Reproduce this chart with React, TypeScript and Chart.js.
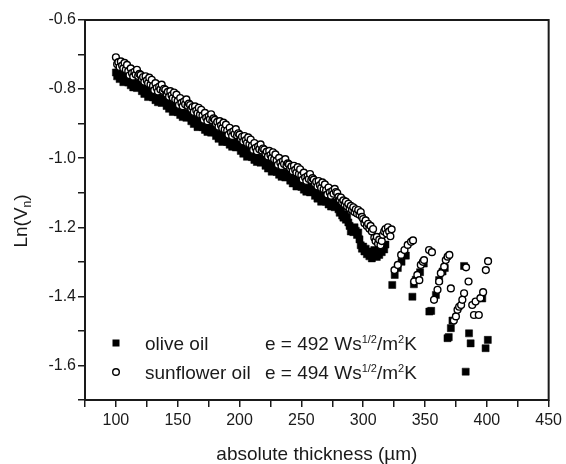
import React, { useEffect, useRef } from 'react';
import { Chart, registerables } from 'chart.js';

Chart.register(...registerables);

// ---- data ----
const xTickLabels = [100, 150, 200, 250, 300, 350, 400, 450];
const yTickLabels = [-1.6, -1.4, -1.2, -1.0, -0.8, -0.6];

const olivePoints: [number, number][] = [
  [100, -0.752], [101, -0.763], [102, -0.751], [103, -0.771], [104, -0.764], [105, -0.760], [106, -0.780], [107, -0.766], [108, -0.776], [109, -0.764],
  [110, -0.781], [111, -0.775], [112, -0.789], [113, -0.779], [114, -0.795], [115, -0.783], [116, -0.787], [117, -0.797], [118, -0.785], [119, -0.793],
  [120, -0.795], [121, -0.806], [122, -0.794], [123, -0.814], [124, -0.807], [125, -0.803], [126, -0.823], [127, -0.809], [128, -0.819], [129, -0.807],
  [130, -0.824], [131, -0.818], [132, -0.832], [133, -0.822], [134, -0.838], [135, -0.826], [136, -0.830], [137, -0.840], [138, -0.828], [139, -0.836],
  [140, -0.838], [141, -0.849], [142, -0.837], [143, -0.857], [144, -0.850], [145, -0.846], [146, -0.866], [147, -0.852], [148, -0.862], [149, -0.850],
  [150, -0.867], [151, -0.861], [152, -0.875], [153, -0.865], [154, -0.881], [155, -0.869], [156, -0.873], [157, -0.883], [158, -0.871], [159, -0.879],
  [160, -0.882], [161, -0.893], [162, -0.881], [163, -0.901], [164, -0.894], [165, -0.890], [166, -0.910], [167, -0.896], [168, -0.906], [169, -0.894],
  [170, -0.910], [171, -0.904], [172, -0.918], [173, -0.908], [174, -0.924], [175, -0.912], [176, -0.916], [177, -0.926], [178, -0.914], [179, -0.922],
  [180, -0.925], [181, -0.936], [182, -0.924], [183, -0.944], [184, -0.937], [185, -0.933], [186, -0.953], [187, -0.939], [188, -0.949], [189, -0.937],
  [190, -0.953], [191, -0.947], [192, -0.961], [193, -0.951], [194, -0.967], [195, -0.955], [196, -0.959], [197, -0.969], [198, -0.957], [199, -0.965],
  [200, -0.968], [201, -0.979], [202, -0.967], [203, -0.987], [204, -0.980], [205, -0.976], [206, -0.996], [207, -0.982], [208, -0.992], [209, -0.980],
  [210, -0.997], [211, -0.991], [212, -1.005], [213, -0.995], [214, -1.011], [215, -0.999], [216, -1.003], [217, -1.013], [218, -1.001], [219, -1.009],
  [220, -1.011], [221, -1.022], [222, -1.010], [223, -1.030], [224, -1.023], [225, -1.019], [226, -1.039], [227, -1.025], [228, -1.035], [229, -1.023],
  [230, -1.040], [231, -1.034], [232, -1.048], [233, -1.038], [234, -1.054], [235, -1.042], [236, -1.046], [237, -1.056], [238, -1.044], [239, -1.052],
  [240, -1.054], [241, -1.065], [242, -1.053], [243, -1.073], [244, -1.066], [245, -1.062], [246, -1.082], [247, -1.068], [248, -1.078], [249, -1.066],
  [250, -1.083], [251, -1.077], [252, -1.091], [253, -1.081], [254, -1.097], [255, -1.085], [256, -1.089], [257, -1.099], [258, -1.087], [259, -1.095],
  [260, -1.098], [261, -1.109], [262, -1.097], [263, -1.117], [264, -1.110], [265, -1.106], [266, -1.126], [267, -1.112], [268, -1.122], [269, -1.110],
  [270, -1.126], [271, -1.120], [272, -1.134], [273, -1.124], [274, -1.140], [275, -1.128], [276, -1.132], [277, -1.142], [278, -1.130], [279, -1.138],
  [280, -1.148], [281, -1.158], [282, -1.150], [283, -1.166], [284, -1.172], [285, -1.162], [286, -1.178], [287, -1.170], [288, -1.186], [289, -1.196],
  [290, -1.212], [291, -1.205], [292, -1.214], [293, -1.200], [294, -1.210], [295, -1.222], [296, -1.215], [297, -1.235], [298, -1.252], [299, -1.262],
  [300, -1.256], [301, -1.270], [302, -1.262], [303, -1.278], [304, -1.270], [305, -1.284], [306, -1.276], [307, -1.290], [308, -1.280], [309, -1.266],
  [310, -1.274], [311, -1.286], [312, -1.270], [313, -1.280], [314, -1.262], [315, -1.272], [316, -1.256], [317, -1.264], [318, -1.250],
  [323.5, -1.367], [325.5, -1.338], [328, -1.318], [331, -1.300], [334.5, -1.282],
  [339.8, -1.401], [341, -1.365], [342.5, -1.352], [346, -1.330], [349, -1.305],
  [353.5, -1.444], [355, -1.442], [358.8, -1.396], [361.4, -1.353], [364.2, -1.328], [366, -1.318],
  [368.2, -1.521], [369.2, -1.518], [370.9, -1.492], [372.2, -1.470], [381.6, -1.312],
  [382.9, -1.618], [385.6, -1.507], [386.9, -1.536], [396.3, -1.406], [399, -1.550], [400.8, -1.526],
];

const sunflowerPoints: [number, number][] = [
  [100, -0.708], [101, -0.728], [102, -0.722], [103, -0.736], [104, -0.720], [105, -0.732], [106, -0.740], [107, -0.724], [108, -0.744], [109, -0.730],
  [110, -0.748], [111, -0.760], [112, -0.740], [113, -0.754], [114, -0.764], [115, -0.750], [116, -0.758], [117, -0.744], [118, -0.762], [119, -0.756],
  [120, -0.759], [121, -0.771], [122, -0.765], [123, -0.779], [124, -0.763], [125, -0.775], [126, -0.783], [127, -0.767], [128, -0.787], [129, -0.773],
  [130, -0.791], [131, -0.803], [132, -0.783], [133, -0.797], [134, -0.807], [135, -0.793], [136, -0.801], [137, -0.787], [138, -0.805], [139, -0.799],
  [140, -0.802], [141, -0.814], [142, -0.808], [143, -0.822], [144, -0.806], [145, -0.818], [146, -0.826], [147, -0.810], [148, -0.830], [149, -0.816],
  [150, -0.834], [151, -0.846], [152, -0.826], [153, -0.840], [154, -0.850], [155, -0.836], [156, -0.844], [157, -0.830], [158, -0.848], [159, -0.842],
  [160, -0.846], [161, -0.858], [162, -0.852], [163, -0.866], [164, -0.850], [165, -0.862], [166, -0.870], [167, -0.854], [168, -0.874], [169, -0.860],
  [170, -0.877], [171, -0.889], [172, -0.869], [173, -0.883], [174, -0.893], [175, -0.879], [176, -0.887], [177, -0.873], [178, -0.891], [179, -0.885],
  [180, -0.889], [181, -0.901], [182, -0.895], [183, -0.909], [184, -0.893], [185, -0.905], [186, -0.913], [187, -0.897], [188, -0.917], [189, -0.903],
  [190, -0.920], [191, -0.932], [192, -0.912], [193, -0.926], [194, -0.936], [195, -0.922], [196, -0.930], [197, -0.916], [198, -0.934], [199, -0.928],
  [200, -0.932], [201, -0.944], [202, -0.938], [203, -0.952], [204, -0.936], [205, -0.948], [206, -0.956], [207, -0.940], [208, -0.960], [209, -0.946],
  [210, -0.964], [211, -0.976], [212, -0.956], [213, -0.970], [214, -0.980], [215, -0.966], [216, -0.974], [217, -0.960], [218, -0.978], [219, -0.972],
  [220, -0.975], [221, -0.987], [222, -0.981], [223, -0.995], [224, -0.979], [225, -0.991], [226, -0.999], [227, -0.983], [228, -1.003], [229, -0.989],
  [230, -1.007], [231, -1.019], [232, -0.999], [233, -1.013], [234, -1.023], [235, -1.009], [236, -1.017], [237, -1.003], [238, -1.021], [239, -1.015],
  [240, -1.018], [241, -1.030], [242, -1.024], [243, -1.038], [244, -1.022], [245, -1.034], [246, -1.042], [247, -1.026], [248, -1.046], [249, -1.032],
  [250, -1.050], [251, -1.062], [252, -1.042], [253, -1.056], [254, -1.066], [255, -1.052], [256, -1.060], [257, -1.046], [258, -1.064], [259, -1.058],
  [260, -1.062], [261, -1.074], [262, -1.068], [263, -1.082], [264, -1.066], [265, -1.078], [266, -1.086], [267, -1.070], [268, -1.090], [269, -1.076],
  [270, -1.093], [271, -1.105], [272, -1.085], [273, -1.099], [274, -1.109], [275, -1.095], [276, -1.103], [277, -1.089], [278, -1.098], [279, -1.101],
  [280, -1.112], [281, -1.120], [282, -1.114], [283, -1.128], [284, -1.122], [285, -1.134], [286, -1.126], [287, -1.140], [288, -1.132], [289, -1.146],
  [290, -1.138], [291, -1.150], [292, -1.142], [293, -1.156], [294, -1.148], [295, -1.160], [296, -1.150], [297, -1.164], [298, -1.156], [299, -1.170],
  [300, -1.176], [301, -1.188], [302, -1.180], [303, -1.196], [304, -1.190], [305, -1.204], [306, -1.196], [307, -1.212], [308, -1.205], [309, -1.230],
  [310, -1.240], [311, -1.228], [312, -1.248], [313, -1.236], [314, -1.252], [315, -1.240], [316, -1.222], [317, -1.212], [318, -1.205], [319, -1.218],
  [320, -1.200], [321, -1.212], [322, -1.226], [323, -1.206],
  [325.3, -1.324], [328, -1.309], [330.7, -1.280], [333.4, -1.266], [336, -1.251], [338.7, -1.242], [340.3, -1.238],
  [341.2, -1.357], [343.8, -1.338], [345.4, -1.353], [346.6, -1.309], [348.3, -1.300], [349.2, -1.295], [353.3, -1.266], [355.6, -1.272],
  [357.3, -1.410], [360.1, -1.381], [361.4, -1.357], [362.8, -1.333], [365.5, -1.314], [366.8, -1.295], [368.3, -1.285], [369.7, -1.280],
  [370.9, -1.377], [381.6, -1.391], [385.2, -1.357], [383.2, -1.316],
  [373.3, -1.470], [375, -1.458], [376.3, -1.439], [377.6, -1.430], [379.2, -1.425], [380.2, -1.410],
  [388.2, -1.425], [389.6, -1.454], [390.9, -1.415], [393.5, -1.454], [394.8, -1.405], [397, -1.388], [399.2, -1.324], [401, -1.298],
];

const seriesNames = ['olive oil', 'sunflower oil'];
const effusivity = ['492', '494'];
const xTitle = 'absolute thickness (µm)';

const FONT = "'Liberation Sans', Arial, Helvetica, sans-serif";
const INK = '#1a1a1a';

type Run = { t: string; size: number; dy: number };

function runsWidth(ctx: CanvasRenderingContext2D, runs: Run[]) {
  let w = 0;
  for (const r of runs) {
    ctx.font = `${r.size}px ${FONT}`;
    w += ctx.measureText(r.t).width;
  }
  return w;
}

function drawRuns(ctx: CanvasRenderingContext2D, x: number, y: number, runs: Run[]) {
  let cx = x;
  ctx.textAlign = 'left';
  ctx.textBaseline = 'alphabetic';
  for (const r of runs) {
    ctx.font = `${r.size}px ${FONT}`;
    ctx.fillText(r.t, cx, y + r.dy);
    cx += ctx.measureText(r.t).width;
  }
}

const decorPlugin = {
  id: 'decor',
  afterDraw(chart: any) {
    const { ctx, chartArea: a } = chart;
    ctx.save();
    // frame
    ctx.strokeStyle = INK;
    ctx.lineWidth = 2;
    ctx.strokeRect(a.left, a.top, a.right - a.left, a.bottom - a.top);

    // legend
    const lx = a.left + 31;
    const rows = [a.bottom - 57, a.bottom - 28];
    ctx.fillStyle = '#000';
    ctx.fillRect(lx - 3.5, rows[0] - 3.5, 7, 7);
    ctx.beginPath();
    ctx.arc(lx, rows[1], 3.3, 0, Math.PI * 2);
    ctx.fillStyle = '#fff';
    ctx.fill();
    ctx.strokeStyle = '#000';
    ctx.lineWidth = 1.4;
    ctx.stroke();

    ctx.fillStyle = INK;
    for (let i = 0; i < 2; i++) {
      const base = rows[i] + 6.5;
      drawRuns(ctx, lx + 29, base, [{ t: seriesNames[i], size: 19, dy: 0 }]);
      drawRuns(ctx, lx + 149, base, [
        { t: `e = ${effusivity[i]} Ws`, size: 19, dy: 0 },
        { t: '1/2', size: 11, dy: -7 },
        { t: '/m', size: 19, dy: 0 },
        { t: '2', size: 11, dy: -7 },
        { t: 'K', size: 19, dy: 0 },
      ]);
    }

    // x title
    ctx.font = `19px ${FONT}`;
    ctx.textAlign = 'center';
    ctx.textBaseline = 'alphabetic';
    ctx.fillText(xTitle, (a.left + a.right) / 2, 460);

    // y title  Ln(V_n)
    const yRuns: Run[] = [
      { t: 'Ln(V', size: 19, dy: 0 },
      { t: 'n', size: 12, dy: 4 },
      { t: ')', size: 19, dy: 0 },
    ];
    const w = runsWidth(ctx, yRuns);
    ctx.translate(27, 221);
    ctx.rotate(-Math.PI / 2);
    drawRuns(ctx, -w / 2, 0, yRuns);
    ctx.restore();
  },
};

export default function App() {
  const ref = useRef<HTMLCanvasElement | null>(null);

  useEffect(() => {
    document.body.style.margin = '0';
    const canvas = ref.current;
    if (!canvas) return;
    const chart = new Chart(canvas, {
      type: 'scatter',
      data: {
        datasets: [
          {
            label: seriesNames[1],
            data: sunflowerPoints.map(([x, y]) => ({ x, y })),
            pointStyle: 'circle',
            pointRadius: 3.4,
            backgroundColor: '#ffffff',
            borderColor: '#000000',
            borderWidth: 1.4,
            order: 0,
          },
          {
            label: seriesNames[0],
            data: olivePoints.map(([x, y]) => ({ x, y })),
            pointStyle: 'rect',
            pointRadius: 5.0,
            backgroundColor: '#000000',
            borderColor: '#000000',
            borderWidth: 0.5,
            order: 1,
          },
        ],
      },
      options: {
        responsive: false,
        animation: false,
        events: [],
        layout: { padding: { left: 0, right: 14, top: 20, bottom: 0 } },
        plugins: { legend: { display: false }, tooltip: { enabled: false } },
        scales: {
          x: {
            type: 'linear',
            min: 75,
            max: 450,
            afterFit: (s: any) => { s.height = 64; },
            border: { display: false },
            grid: { drawOnChartArea: false, drawTicks: true, tickLength: 7, color: INK, lineWidth: 1.5 },
            ticks: {
              stepSize: 25,
              padding: 4,
              autoSkip: false,
              maxRotation: 0,
              minRotation: 0,
              color: INK,
              font: { family: FONT, size: 16 },
              callback: (v: any) => (xTickLabels.includes(Number(v)) ? String(v) : ''),
            },
          },
          y: {
            type: 'linear',
            min: -1.7,
            max: -0.6,
            afterFit: (s: any) => { s.width = 85; },
            border: { display: false },
            grid: { drawOnChartArea: false, drawTicks: true, tickLength: 7, color: INK, lineWidth: 1.5 },
            ticks: {
              stepSize: 0.1,
              padding: 2,
              autoSkip: false,
              color: INK,
              font: { family: FONT, size: 16 },
              callback: (v: any) => {
                const n = Number(v);
                const hit = yTickLabels.find((t) => Math.abs(t - n) < 1e-6);
                return hit === undefined ? '' : hit.toFixed(1);
              },
            },
          },
        },
      },
      plugins: [decorPlugin],
    });
    return () => chart.destroy();
  }, []);

  return <canvas ref={ref} width={566} height={464} style={{ display: 'block', width: 566, height: 464 }} />;
}
